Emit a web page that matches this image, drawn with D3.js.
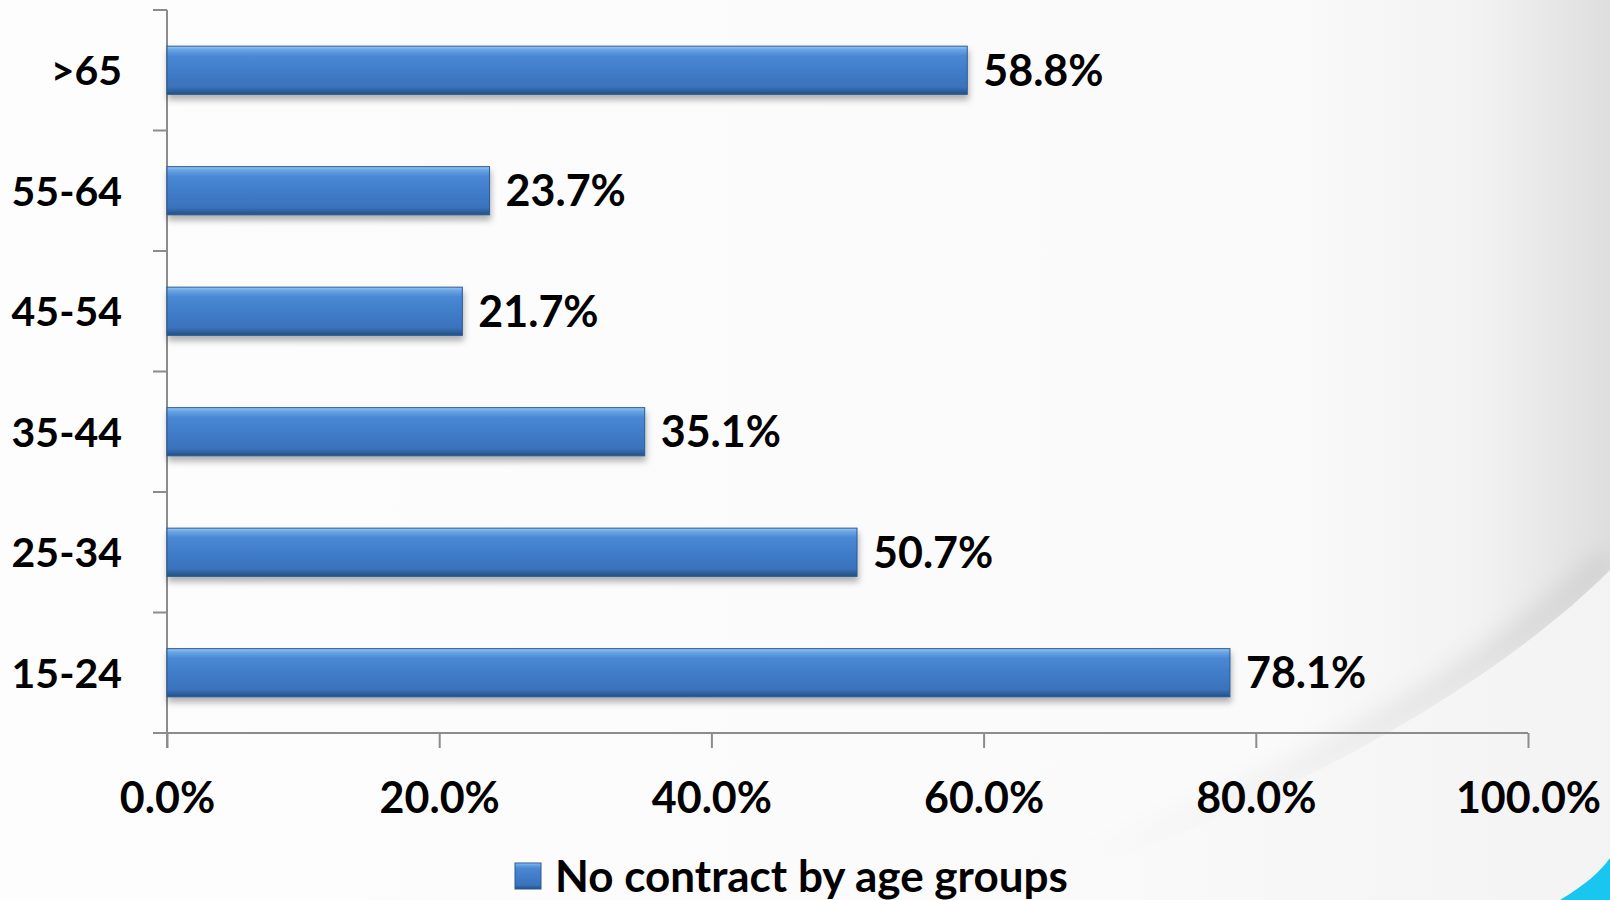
<!DOCTYPE html>
<html>
<head>
<meta charset="utf-8">
<script src="https://cdn.jsdelivr.net/npm/d3@7"></script>
<style>
  html, body { margin: 0; padding: 0; background: #fbfbfb; }
  svg { display: block; font-family: Lato, "Open Sans", sans-serif; font-weight: bold; }
</style>
</head>
<body>
<div id="chart"></div>
<script>
var width = 1610, height = 900;

// data
var categories = ["15-24", "25-34", "35-44", "45-54", "55-64", ">65"];
var values = [78.1, 50.7, 35.1, 21.7, 23.7, 58.8];
var tickValues = [0, 20, 40, 60, 80, 100];
var seriesName = "No contract by age groups";

var margin = {top: 10, right: 82, bottom: 167, left: 167};

var svg = d3.select("#chart").append("svg")
    .attr("width", width)
    .attr("height", height);

var defs = svg.append("defs");

// background: white fading to grey at the right edge
var bg = defs.append("linearGradient").attr("id", "bg")
    .attr("x1", "0").attr("y1", "0").attr("x2", "1").attr("y2", "0");
bg.append("stop").attr("offset", "0%").attr("stop-color", "#fdfdfd");
bg.append("stop").attr("offset", "80%").attr("stop-color", "#fafafa");
bg.append("stop").attr("offset", "92%").attr("stop-color", "#f2f2f2");
bg.append("stop").attr("offset", "100%").attr("stop-color", "#dedede");

var lower = defs.append("linearGradient").attr("id", "lower")
    .attr("x1", "0").attr("y1", "0").attr("x2", "1").attr("y2", "0");
lower.append("stop").attr("offset", "0%").attr("stop-color", "#fbfbfb");
lower.append("stop").attr("offset", "100%").attr("stop-color", "#f3f3f3");

// shade above the swoosh, fading out to the left
var shade = defs.append("linearGradient").attr("id", "shade")
    .attr("gradientUnits", "userSpaceOnUse")
    .attr("x1", 1050).attr("y1", 0).attr("x2", 1610).attr("y2", 0);
shade.append("stop").attr("offset", "0%").attr("stop-color", "#e6e6e6").attr("stop-opacity", 0);
shade.append("stop").attr("offset", "60%").attr("stop-color", "#dcdcdc").attr("stop-opacity", 0.6);
shade.append("stop").attr("offset", "100%").attr("stop-color", "#cfcfcf").attr("stop-opacity", 1);

var blur = defs.append("filter").attr("id", "blur")
    .attr("x", "-20%").attr("y", "-20%").attr("width", "140%").attr("height", "140%");
blur.append("feGaussianBlur").attr("stdDeviation", 12);

// bar bevel
var barGrad = defs.append("linearGradient").attr("id", "barGrad")
    .attr("x1", "0").attr("y1", "0").attr("x2", "0").attr("y2", "1");
[["0%", "#9cc8f2"], ["7%", "#6aa6e6"], ["20%", "#4a88d4"], ["55%", "#3f7bc8"],
 ["85%", "#3a72bb"], ["93%", "#2d5f9e"], ["100%", "#22507f"]].forEach(function (s) {
    barGrad.append("stop").attr("offset", s[0]).attr("stop-color", s[1]);
});

var shadow = defs.append("filter").attr("id", "shadow")
    .attr("x", "-5%").attr("y", "-20%").attr("width", "110%").attr("height", "160%");
shadow.append("feDropShadow").attr("dx", 1).attr("dy", 5).attr("stdDeviation", 3)
    .attr("flood-color", "#000").attr("flood-opacity", 0.3);

svg.append("rect").attr("width", width).attr("height", height).attr("fill", "url(#bg)");

// swoosh in the lower right corner
var curve = "M1000,900 C1250,820 1480,700 1610,570";
svg.append("path")
    .attr("d", curve)
    .attr("fill", "none")
    .attr("stroke", "url(#shade)")
    .attr("stroke-width", 24)
    .attr("transform", "translate(0,-12)")
    .attr("filter", "url(#blur)");
svg.append("path")
    .attr("d", curve + " L1610,900 Z")
    .attr("fill", "url(#lower)");
svg.append("path")
    .attr("d", "M1560,900 C1585,885 1600,872 1610,858 L1610,900 Z")
    .attr("fill", "#19c6ef");

var x = d3.scaleLinear()
    .domain([0, 100])
    .range([margin.left, width - margin.right]);

var y = d3.scaleBand()
    .domain(categories.slice().reverse())
    .range([margin.top, height - margin.bottom])
    .paddingInner(0.6)
    .paddingOuter(0.3);

var yAxisBand = d3.scaleBand()
    .domain(categories.slice().reverse())
    .range([margin.top, height - margin.bottom]);

var axisColor = "#8c8c8c";

// y axis line with ticks between categories
var gy = svg.append("g");
gy.append("line")
    .attr("x1", x(0)).attr("x2", x(0))
    .attr("y1", margin.top).attr("y2", height - margin.bottom + 15)
    .attr("stroke", axisColor).attr("stroke-width", 2);
gy.selectAll("line.tick")
    .data(categories)
    .enter().append("line")
    .attr("class", "tick")
    .attr("x1", x(0) - 14).attr("x2", x(0))
    .attr("y1", d => yAxisBand(d)).attr("y2", d => yAxisBand(d))
    .attr("stroke", axisColor).attr("stroke-width", 2);

gy.selectAll("text")
    .data(categories)
    .enter().append("text")
    .attr("x", 122)
    .attr("y", d => yAxisBand(d) + yAxisBand.bandwidth() / 2)
    .attr("dy", "0.36em")
    .attr("text-anchor", "end")
    .attr("font-size", 41)
    .attr("fill", "#000")
    .text(d => d);

// x axis
var xAxis = d3.axisBottom(x)
    .tickValues(tickValues)
    .tickSize(15)
    .tickSizeOuter(0)
    .tickPadding(34)
    .tickFormat(d => d.toFixed(1) + "%");

var gx = svg.append("g")
    .attr("transform", "translate(0," + (height - margin.bottom) + ")")
    .call(xAxis);
gx.select(".domain").attr("stroke", axisColor).attr("stroke-width", 2)
    .attr("d", "M" + (x(0) - 14) + ",0H" + x(100));
gx.selectAll(".tick line").attr("stroke", axisColor).attr("stroke-width", 2);
gx.selectAll(".tick text")
    .attr("font-size", 43)
    .attr("font-family", "Lato, 'Open Sans', sans-serif")
    .attr("font-weight", "bold")
    .attr("fill", "#000");

// bars
svg.append("g")
    .selectAll("rect")
    .data(categories)
    .enter().append("rect")
    .attr("x", x(0))
    .attr("y", d => y(d))
    .attr("width", (d, i) => x(values[i]) - x(0))
    .attr("height", y.bandwidth())
    .attr("fill", "url(#barGrad)")
    .attr("stroke", "#2a5a94")
    .attr("stroke-width", 1)
    .attr("filter", "url(#shadow)");

// value labels
svg.append("g")
    .selectAll("text")
    .data(categories)
    .enter().append("text")
    .attr("x", (d, i) => x(values[i]) + 16)
    .attr("y", d => y(d) + y.bandwidth() / 2)
    .attr("dy", "0.36em")
    .attr("font-size", 43)
    .attr("fill", "#000")
    .text((d, i) => values[i].toFixed(1) + "%");

// legend
var legend = svg.append("g").attr("transform", "translate(515,863)");
legend.append("rect")
    .attr("width", 26).attr("height", 26)
    .attr("fill", "url(#barGrad)")
    .attr("stroke", "#2a5a94");
legend.append("text")
    .attr("x", 40).attr("y", 13)
    .attr("dy", "0.36em")
    .attr("font-size", 44)
    .attr("fill", "#000")
    .text(seriesName);
</script>
</body>
</html>
